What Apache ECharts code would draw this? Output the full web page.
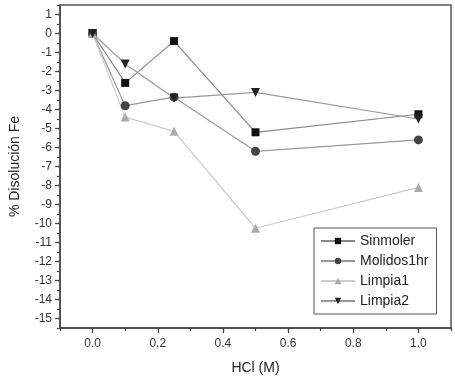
<!DOCTYPE html>
<html>
<head>
<meta charset="utf-8">
<script src="https://cdn.jsdelivr.net/npm/echarts@6/dist/echarts.min.js"></script>
<style>
  html, body { margin: 0; padding: 0; background: #fff; }
  #chart { width: 455px; height: 380px; }
</style>
</head>
<body>
<div id="chart"></div>
<script>
// datos
var hcl = [0, 0.1, 0.25, 0.5, 1.0];
var sinmoler = [0, -2.6, -0.4, -5.2, -4.25];
var molidos1hr = [0, -3.8, -3.35, -6.2, -5.6];
var limpia1 = [0, -4.4, -5.15, -10.25, -8.1];
var limpia2 = [0, -1.6, -3.4, -3.1, -4.5];

var xTicks = [0, 0.2, 0.4, 0.6, 0.8, 1.0];
var yTicks = [1, 0, -1, -2, -3, -4, -5, -6, -7, -8, -9, -10, -11, -12, -13, -14, -15];

function pares(ys) {
    return hcl.map(function (x, i) { return [x, ys[i]]; });
}

var chart = echarts.init(document.getElementById('chart'));

var fuente = 'Liberation Sans, Arial, sans-serif';

var option = {
    backgroundColor: '#fff',
    animation: false,
    grid: {
        left: 57,
        right: 4,
        top: 5,
        bottom: 52,
        show: true,
        borderColor: '#555',
        borderWidth: 1.5,
        backgroundColor: 'transparent'
    },
    legend: {
        orient: 'vertical',
        left: 314,
        top: 228,
        itemWidth: 34,
        itemHeight: 8,
        itemGap: 6,
        padding: [6, 8, 6, 6],
        borderColor: '#555',
        borderWidth: 1,
        backgroundColor: '#fff',
        textStyle: { fontFamily: fuente, fontSize: 14, color: '#222' },
        data: ['Sinmoler', 'Molidos1hr', 'Limpia1', 'Limpia2']
    },
    xAxis: [{
        type: 'value',
        min: -0.1,
        max: 1.1,
        name: 'HCl (M)',
        nameLocation: 'middle',
        nameGap: 33,
        nameTextStyle: { fontFamily: fuente, fontSize: 14, color: '#222' },
        axisLine: { show: true, onZero: false, lineStyle: { color: '#444', width: 1.5 } },
        axisTick: { show: true, length: 5, customValues: xTicks, lineStyle: { color: '#444', width: 1.2 } },
        axisLabel: {
            customValues: xTicks,
            margin: 10,
            fontFamily: fuente, fontSize: 12, color: '#333',
            formatter: function (v) { return v.toFixed(1); }
        },
        splitLine: { show: false }
    }, {
        // ticks menores
        type: 'value',
        position: 'bottom',
        min: -0.1,
        max: 1.1,
        interval: 0.1,
        axisLine: { show: false, onZero: false },
        axisTick: { show: true, length: 3, lineStyle: { color: '#444', width: 1.2 } },
        axisLabel: { show: false },
        splitLine: { show: false }
    }],
    yAxis: [{
        type: 'value',
        position: 'left',
        min: -15.5,
        max: 1.5,
        name: '% Disolución Fe',
        nameLocation: 'middle',
        nameGap: 38,
        nameTextStyle: { fontFamily: fuente, fontSize: 14, color: '#222' },
        axisLine: { show: true, onZero: false, lineStyle: { color: '#444', width: 1.5 } },
        axisTick: { show: true, length: 5, customValues: yTicks, lineStyle: { color: '#444', width: 1.2 } },
        axisLabel: {
            customValues: yTicks,
            margin: 8,
            fontFamily: fuente, fontSize: 12, color: '#333'
        },
        splitLine: { show: false }
    }, {
        type: 'value',
        position: 'left',
        min: -15.5,
        max: 1.5,
        interval: 0.5,
        axisLine: { show: false, onZero: false },
        axisTick: { show: true, length: 3, lineStyle: { color: '#444', width: 1.2 } },
        axisLabel: { show: false },
        splitLine: { show: false }
    }],
    series: [{
        name: 'Sinmoler',
        type: 'line',
        data: pares(sinmoler),
        symbol: 'rect',
        symbolSize: 8,
        itemStyle: { color: '#111' },
        lineStyle: { color: '#888', width: 1.2 }
    }, {
        name: 'Molidos1hr',
        type: 'line',
        data: pares(molidos1hr),
        symbol: 'circle',
        symbolSize: 9,
        itemStyle: { color: '#444' },
        lineStyle: { color: '#999', width: 1.2 }
    }, {
        name: 'Limpia1',
        type: 'line',
        data: pares(limpia1),
        symbol: 'triangle',
        symbolSize: 9,
        itemStyle: { color: '#aaa' },
        lineStyle: { color: '#ccc', width: 1.2 }
    }, {
        name: 'Limpia2',
        type: 'line',
        data: pares(limpia2),
        symbol: 'triangle',
        symbolRotate: 180,
        symbolSize: 9,
        itemStyle: { color: '#222' },
        lineStyle: { color: '#999', width: 1.2 }
    }]
};

chart.setOption(option);
</script>
</body>
</html>
